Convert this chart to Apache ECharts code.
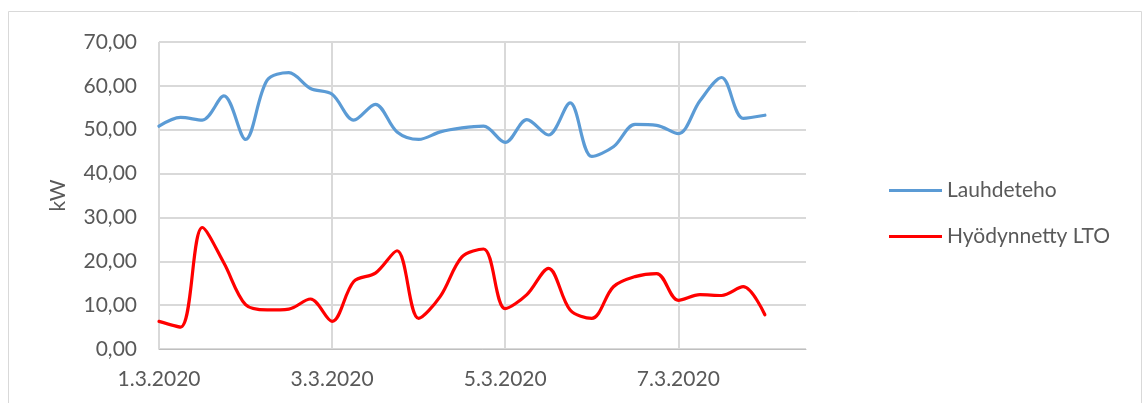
<!DOCTYPE html>
<html>
<head>
<meta charset="utf-8">
<script src="https://cdn.jsdelivr.net/npm/echarts@6/dist/echarts.min.js"></script>
<style>
  html, body { margin: 0; padding: 0; background: #fff; }
  #chart { width: 1143px; height: 403px; }
</style>
</head>
<body>
<div id="chart"></div>
<script>
// Six-hourly readings, 1.3.2020 00:00 – 8.3.2020 00:00
const times = [
  '2020-03-01T00:00Z', '2020-03-01T06:00Z', '2020-03-01T12:00Z', '2020-03-01T18:00Z',
  '2020-03-02T00:00Z', '2020-03-02T06:00Z', '2020-03-02T12:00Z', '2020-03-02T18:00Z',
  '2020-03-03T00:00Z', '2020-03-03T06:00Z', '2020-03-03T12:00Z', '2020-03-03T18:00Z',
  '2020-03-04T00:00Z', '2020-03-04T06:00Z', '2020-03-04T12:00Z', '2020-03-04T18:00Z',
  '2020-03-05T00:00Z', '2020-03-05T06:00Z', '2020-03-05T12:00Z', '2020-03-05T18:00Z',
  '2020-03-06T00:00Z', '2020-03-06T06:00Z', '2020-03-06T12:00Z', '2020-03-06T18:00Z',
  '2020-03-07T00:00Z', '2020-03-07T06:00Z', '2020-03-07T12:00Z', '2020-03-07T18:00Z',
  '2020-03-08T00:00Z'
];

// Condenser power (kW)
const lauhdeteho = [
  50.8, 52.8, 52.2, 57.7, 47.8, 61.3, 63.0, 59.4,
  58.1, 52.2, 55.8, 49.5, 47.8, 49.5, 50.4, 50.8,
  47.1, 52.3, 48.8, 56.1, 43.9, 46.1, 51.2, 51.0,
  49.1, 56.6, 61.9, 52.6, 53.3
];

// Heat recovered (kW)
const hyodynnettyLTO = [
  6.3, 5.0, 27.7, 19.6, 10.1, 8.9, 9.1, 11.4,
  6.3, 15.4, 17.3, 22.4, 7.0, 12.0, 21.0, 22.8,
  9.2, 12.4, 18.4, 8.9, 7.0, 14.2, 16.5, 17.2,
  11.1, 12.4, 12.2, 14.2, 7.8
];

const seriesNames = ['Lauhdeteho', 'Hyödynnetty LTO'];
const yTicks = [0, 10, 20, 30, 40, 50, 60, 70];

const startMs = Date.parse('2020-03-01T00:00Z');
const dayMs = 86400000;
const toDays = t => (Date.parse(t) - startMs) / dayMs;

const font = 'Lato, "Open Sans", sans-serif';
const textColor = '#595959';
const gridColor = '#d9d9d9';
const fontSize = 21;

const chart = echarts.init(document.getElementById('chart'), null, { renderer: 'canvas' });

chart.setOption({
  animation: false,
  backgroundColor: '#ffffff',
  textStyle: { fontFamily: font },
  graphic: [{
    type: 'rect',
    shape: { x: 8.5, y: 11.5, width: 1133, height: 400 },
    style: { fill: 'none', stroke: gridColor, lineWidth: 1 },
    silent: true,
    z: -1
  }],
  grid: { left: 159, right: 337, top: 42, bottom: 54 },
  legend: {
    orient: 'vertical',
    left: 889,
    top: 178,
    padding: 0,
    icon: 'rect',
    itemWidth: 53,
    itemHeight: 3,
    itemGap: 21,
    data: seriesNames,
    textStyle: { color: textColor, fontSize: fontSize, fontFamily: font, lineHeight: 25 }
  },
  xAxis: {
    type: 'value',
    min: 0,
    max: 7.475,
    interval: 2,
    axisLine: { show: true, lineStyle: { color: '#bfbfbf', width: 1 } },
    axisTick: { show: false },
    splitLine: {
      show: true,
      lineStyle: { color: [gridColor, gridColor, gridColor, gridColor, 'rgba(0,0,0,0)'], width: 2 }
    },
    axisLabel: {
      color: textColor,
      fontSize: fontSize,
      fontFamily: font,
      margin: 20,
      showMaxLabel: false,
      formatter: v => (Math.abs(v - Math.round(v)) < 1e-6 ? (1 + Math.round(v)) + '.3.2020' : '')
    }
  },
  yAxis: {
    type: 'value',
    min: yTicks[0],
    max: yTicks[yTicks.length - 1],
    interval: 10,
    name: 'kW',
    nameLocation: 'middle',
    nameGap: 90,
    nameRotate: 90,
    nameTextStyle: { color: textColor, fontSize: fontSize, fontFamily: font },
    axisLine: { show: false },
    axisTick: { show: false },
    splitLine: { show: true, lineStyle: { color: gridColor, width: 2 } },
    axisLabel: {
      color: textColor,
      fontSize: fontSize,
      fontFamily: font,
      margin: 22,
      formatter: v => v.toFixed(2).replace('.', ',')
    }
  },
  series: [
    {
      name: seriesNames[0],
      type: 'line',
      smooth: 0.33,
      showSymbol: false,
      symbol: 'none',
      color: '#5b9bd5',
      lineStyle: { color: '#5b9bd5', width: 3.2, cap: 'round', join: 'round' },
      data: times.map((t, i) => [toDays(t), lauhdeteho[i]]),
      z: 3
    },
    {
      name: seriesNames[1],
      type: 'line',
      smooth: 0.33,
      showSymbol: false,
      symbol: 'none',
      color: '#ff0000',
      lineStyle: { color: '#ff0000', width: 3.2, cap: 'round', join: 'round' },
      data: times.map((t, i) => [toDays(t), hyodynnettyLTO[i]]),
      z: 3
    }
  ]
});
</script>
</body>
</html>
